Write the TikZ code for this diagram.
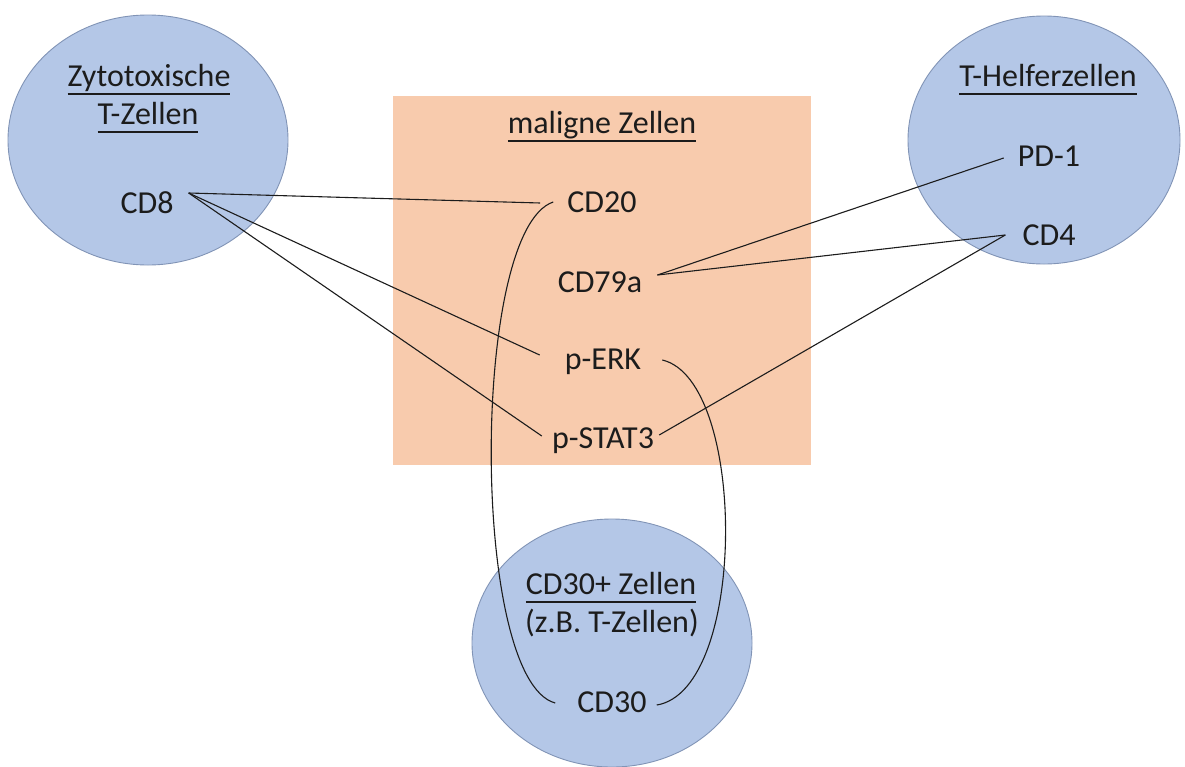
\documentclass[tikz,border=0pt]{standalone}
\usepackage{fontspec}
\setmainfont{Carlito}
\usetikzlibrary{shapes.geometric,calc}
\definecolor{cellblue}{HTML}{B4C7E7}
\definecolor{cellborder}{HTML}{8194B6}
\definecolor{malig}{HTML}{F8CBAD}
\definecolor{ink}{HTML}{1C1C1C}
\newcommand\myul[1]{\setbox0\hbox{#1}\rlap{\rule[-9pt]{\wd0}{2.4pt}}\box0}
\begin{document}
\begin{tikzpicture}[x=1pt,y=-1pt,
  cell/.style={ellipse,fill=cellblue,draw=cellborder,line width=0.9pt,inner sep=0},
  lbl/.style={anchor=base,inner sep=0,text=ink,font=\fontsize{32}{38}\selectfont},
  link/.style={draw=ink,line width=1.1pt}]
\useasboundingbox (0,0) rectangle (1185,766);
% shapes
\node[cell,minimum width=280pt,minimum height=250pt] (zc) at (148,140) {};
\node[cell,minimum width=272pt,minimum height=248pt] (hc) at (1044,140) {};
\node[cell,minimum width=280pt,minimum height=248pt] (bc) at (612,643) {};
\node[fill=malig,minimum width=418pt,minimum height=369pt,inner sep=0] (mal) at (602,280.5) {};
% labels
\node[lbl] (zt1) at (149,86) {\myul{Zytotoxische}};
\node[lbl] (zt2) at (148,124) {\myul{T-Zellen}};
\node[lbl] (cd8) at (147,213) {CD8};
\node[lbl] (ht) at (1048,86) {\myul{T-Helferzellen}};
\node[lbl] (pd1) at (1049,166) {PD-1};
\node[lbl] (cd4) at (1049,245) {CD4};
\node[lbl] (mt) at (602,133) {\myul{maligne Zellen}};
\node[lbl] (cd20) at (602,212) {CD20};
\node[lbl] (cd79) at (600,292) {CD79a};
\node[lbl] (perk) at (603,369) {p-ERK};
\node[lbl] (pstat) at (603,448) {p-STAT3};
\node[lbl] (bt1) at (611,594) {\myul{CD30+ Zellen}};
\node[lbl] (bt2) at (612,632) {(z.B. T-Zellen)};
\node[lbl] (cd30) at (612,712) {CD30};
% connectors
\draw[link] ($(cd8.base east)+(15,-20)$) -- ($(cd20.base west)+(-27,-9)$);
\draw[link] ($(cd8.base east)+(15,-20)$) -- ($(perk.base west)+(-25,-14)$);
\draw[link] ($(cd8.base east)+(15,-20)$) -- ($(pstat.base west)+(-10,-12)$);
\draw[link] ($(cd79.base east)+(15,-17)$) -- ($(pd1.base west)+(-14,-8)$);
\draw[link] ($(cd79.base east)+(15,-17)$) -- ($(cd4.base west)+(-17,-10)$);
\draw[link] ($(pstat.base east)+(5,-13)$) -- ($(cd4.base west)+(-17,-10)$);
\draw[link] ($(cd20.base west)+(-14,-10)$) .. controls +(-83,28) and +(-85,-23) .. ($(cd30.base west)+(-22,-9)$);
\draw[link] ($(perk.base east)+(21,-9)$) .. controls +(85,20) and +(91,-15) .. ($(cd30.base east)+(10,-7)$);
\end{tikzpicture}
\end{document}
